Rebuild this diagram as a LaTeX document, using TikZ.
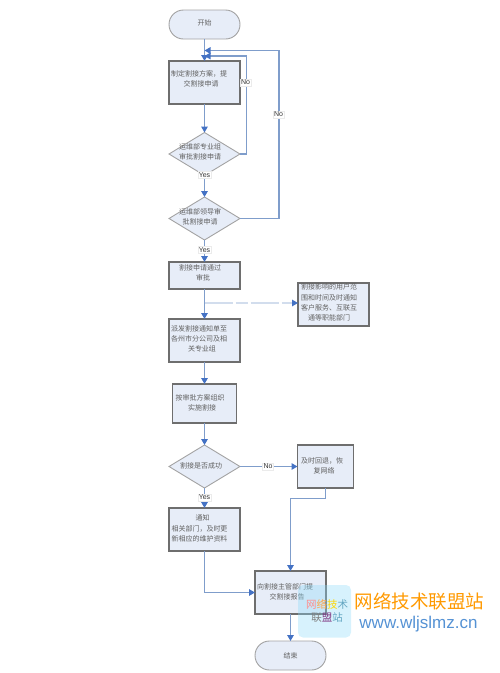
\documentclass[tikz,border=0pt]{standalone}
\usepackage{fontspec}
\setmainfont{Noto Sans CJK SC}
\newfontfamily\latinf{Liberation Sans}
\usetikzlibrary{arrows.meta,shapes.geometric,shapes.misc}
\definecolor{boxfill}{HTML}{E7EDF8}
\definecolor{boxedge}{HTML}{6E6E6E}
\definecolor{softedge}{HTML}{A3A3A3}
\definecolor{linkc}{HTML}{7F9DCB}
\definecolor{tipc}{HTML}{4472C4}
\definecolor{txtc}{HTML}{606060}
\tikzset{
  procbox/.style={draw=boxedge,line width=1.1pt,fill=boxfill,inner sep=0pt,outer sep=0pt},
  termbox/.style={rounded rectangle,draw=softedge,line width=0.9pt,fill=boxfill,inner sep=0pt,outer sep=0pt,minimum width=71pt,minimum height=29pt},
  decide/.style={diamond,draw=softedge,line width=0.9pt,fill=boxfill,inner sep=0pt,outer sep=0pt,minimum width=71pt,minimum height=43pt},
  words/.style={font=\fontsize{7}{10.3}\selectfont,text=txtc,align=center,inner sep=0pt},
  link/.style={draw=linkc,line width=1.4pt,-{Triangle[length=6pt,width=6.5pt,fill=tipc,color=tipc]}},
  tag/.style={fill=white,draw=black!8,line width=0.3pt,font=\latinf\fontsize{7}{8}\selectfont,text=black!80,inner sep=1pt},
}
\begin{document}
\begin{tikzpicture}[x=1pt,y=-1pt]
\useasboundingbox (0,0) rectangle (500,673);
% shapes
\node[termbox] (start) at (204.5,24.5) {};
\node[procbox,minimum width=71pt,minimum height=43pt] (plan) at (204.5,82.5) {};
\node[decide] (groupok) at (204.5,154) {};
\node[decide] (leadok) at (204.5,218.5) {};
\node[procbox,minimum width=71pt,minimum height=27pt] (passed) at (204.5,275.5) {};
\node[procbox,minimum width=71pt,minimum height=43pt] (inform) at (333.5,304.5) {};
\node[procbox,minimum width=71pt,minimum height=43pt] (dispatch) at (204.5,340.5) {};
\node[procbox,minimum width=64pt,minimum height=39pt] (execute) at (204.5,403.5) {};
\node[decide] (success) at (204.5,466.5) {};
\node[procbox,minimum width=56pt,minimum height=43pt] (rollback) at (325.5,466.5) {};
\node[procbox,minimum width=71pt,minimum height=43pt] (notify) at (204.5,529.5) {};
\node[procbox,minimum width=71pt,minimum height=43pt] (report) at (290.5,592.5) {};
\node[termbox] (finish) at (290.5,655.5) {};
% joints
\coordinate (joinA) at (204.5,56);
\coordinate (joinB) at (204.5,50.5);
\coordinate (cornerA) at (246.5,154);
\coordinate (cornerB) at (279,218.5);
\coordinate (loopA) at (246.5,56);
\coordinate (loopB) at (279,50.5);
\coordinate (branch) at (204.5,303);
\coordinate (bendA) at (325.5,498.5);
\coordinate (bendB) at (290.5,498.5);
% connectors
\draw[link] (start.south) -- (plan.north);
\draw[link] (plan.south) -- (groupok.north);
\draw[link] (groupok.south) -- (leadok.north);
\draw[link] (leadok.south) -- (passed.north);
\draw[link] (passed.south) -- (dispatch.north);
\draw[link] (dispatch.south) -- (execute.north);
\draw[link] (execute.south) -- (success.north);
\draw[link] (success.south) -- (notify.north);
\draw[link] (success.east) -- (rollback.west);
\draw[link] (groupok.east) -- (cornerA) -- (loopA) -- (joinA);
\draw[link] (leadok.east) -- (cornerB) -- (loopB) -- (joinB);
\draw[draw=linkc!35,line width=1.3pt,dash pattern=on 28pt off 3pt on 12pt off 3pt,-{Triangle[length=6pt,width=6.5pt,fill=tipc,color=tipc]}] (branch) -- (inform.west |- branch);
\draw[link] (rollback.south) -- (bendA) -- (bendB) -- (report.north);
\draw[link] (notify.south) |- (report.west);
\draw[link] (report.south) -- (finish.north);
% connector labels
\node[tag] (yes1) at (204.5,175) {Yes};
\node[tag] (yes2) at (204.5,250) {Yes};
\node[tag] (yes3) at (204.5,497.5) {Yes};
\node[tag] (no1) at (245.5,82.5) {No};
\node[tag] (no2) at (278.5,114.5) {No};
\node[tag] (no3) at (268,466.5) {No};
% words
\node[words] (t1) at (204.5,23) {开始};
\node[words] (t2) at (199,79) {制定割接方案，提\\\hspace*{4pt}交割接申请};
\node[words] (t3) at (200,152) {运维部专业组\\审批割接申请};
\node[words] (t4) at (200,216.5) {运维部领导审\\批割接申请};
\node[words] (t5) at (200,273) {割接申请通过\\\hspace*{6pt}审批};
\node[words] (t6) at (329,302.5) {割接影响的用户范\\围和时间及时通知\\客户服务、互联互\\通等职能部门};
\node[words] (t7) at (199,339) {派发割接通知单至\\各州市分公司及相\\\hspace*{6pt}关专业组};
\node[words] (t8) at (200,402.5) {按审批方案组织\\\hspace*{4pt}实施割接};
\node[words] (t9) at (201,466) {割接是否成功};
\node[words] (t10) at (322,466) {及时回退，恢\\\hspace*{4pt}复网络};
\node[words] (t11) at (199.5,528.5) {\hspace*{6pt}通知\\相关部门，及时更\\新相应的维护资料};
\node[words] (t12) at (285,592) {向割接主管部门提\\\hspace*{4pt}交割接报告};
\node[words] (t13) at (290.5,656) {结束};
% watermark
\fill[cyan!45,opacity=0.35,rounded corners=5pt] (298,585) rectangle (351,637.5);
\node[font=\fontsize{10.5}{12}\selectfont,inner sep=0pt] (m1) at (327,604) {\textcolor{red!45}{网}\textcolor{orange!70}{络}\textcolor{yellow!75!orange}{技}\textcolor{cyan!50!gray}{术}};
\node[font=\fontsize{10.5}{12}\selectfont,inner sep=0pt] (m2) at (327,617.5) {\textcolor{gray}{联}\textcolor{violet!60!gray}{盟}\textcolor{cyan!50!gray}{站}};
\node[font=\fontsize{18.5}{20}\selectfont,text=orange!80!yellow,inner sep=0pt] (m3) at (419.5,601) {网络技术联盟站};
\node[font=\latinf\fontsize{17}{19}\selectfont,text=cyan!55!blue!70,inner sep=0pt] (m4) at (418.5,624.5) {www.wljslmz.cn};
\end{tikzpicture}
\end{document}
